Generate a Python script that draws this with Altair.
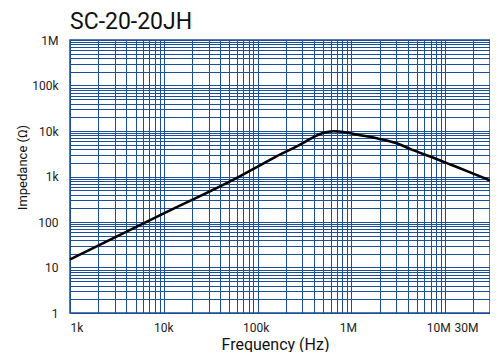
import altair as alt
import pandas as pd

# Curve (Hz, Ohm)
freq = [1000, 10000, 61600, 100000, 162000, 264000, 395000, 504000, 641000, 886000,
        1130000, 1990000, 3230000, 4460000, 7250000, 11700000, 19000000, 30000000]
imp = [15, 155, 960, 1640, 2830, 4650, 7350, 9150, 9900, 9300,
       8400, 6700, 5120, 3840, 2650, 1790, 1200, 816]

# Axis labels
x_label_values = [1000, 10000, 100000, 1000000, 10000000, 30000000]
x_label_texts = ["1k", "10k", "100k", "1M", "10M", "30M"]
x_label_shift = [0, -0.5, -2, -3.5, -7, -12]
y_label_values = [1, 10, 100, 1000, 10000, 100000, 1000000]
y_label_texts = ["1", "10", "100", "1k", "10k", "100k", "1M"]

# Grid positions (1..9 per decade)
x_grid = [m * 10 ** k for k in range(3, 7) for m in range(1, 10)] + [10000000, 20000000, 30000000]
y_grid = [m * 10 ** k for k in range(0, 6) for m in range(1, 10)] + [1000000]

FONT = "Roboto"
GRID = "#1c4f99"


def label_expr(values, texts):
    expr = "''"
    for v, t in reversed(list(zip(values, texts))):
        expr = f"datum.value == {v} ? '{t}' : ({expr})"
    return expr


label_offset = {
    "condition": [{"test": f"datum.value == {v}", "value": s}
                  for v, s in zip(x_label_values, x_label_shift) if s != 0],
    "value": 0,
}

df = pd.DataFrame({"f": freq, "z": imp})

chart = alt.Chart(df).mark_line(
    color="black", strokeWidth=2.6, interpolate="monotone"
).encode(
    x=alt.X("f:Q",
            scale=alt.Scale(type="log", domain=[1000, 30000000], nice=False),
            axis=alt.Axis(
                values=x_grid, labelExpr=label_expr(x_label_values, x_label_texts),
                title="Frequency (Hz)", ticks=False, tickSize=0, domain=False,
                grid=True, gridColor=GRID, gridWidth=1, gridOpacity=1,
                labelOverlap=False, labelBound=False,
                labelFont=FONT, labelFontSize=12, labelColor="#222222",
                labelBaseline="alphabetic", labelPadding=18,
                labelOffset=label_offset,
                titleFont=FONT, titleFontSize=16, titleFontWeight="normal", titleColor="#111111",
                titleX=205, titleY=36, titleAlign="center", titleBaseline="alphabetic",
            )),
    y=alt.Y("z:Q",
            scale=alt.Scale(type="log", domain=[1, 1000000], nice=False),
            axis=alt.Axis(
                values=y_grid, labelExpr=label_expr(y_label_values, y_label_texts),
                title="Impedance (Ω)", ticks=False, tickSize=0, domain=False,
                grid=True, gridColor=GRID, gridWidth=1, gridOpacity=1,
                labelOverlap=False, labelBound=False,
                labelFont=FONT, labelFontSize=12, labelColor="#222222",
                labelPadding=12,
                titleFont=FONT, titleFontSize=13, titleFontWeight="normal", titleColor="#111111",
                titleX=-44, titleY=127, titleAlign="center", titleBaseline="alphabetic",
                titleAngle=270,
            )),
).properties(
    width=420, height=273,
    title=alt.TitleParams("SC-20-20JH", anchor="start", frame="group", font=FONT,
                          fontSize=23, fontWeight="normal", color="#111111",
                          baseline="alphabetic", offset=4, dy=22),
    autosize=alt.AutoSizeParams(type="none"),
    padding={"left": 62, "top": 32, "right": 0, "bottom": 39},
).configure_view(
    stroke=GRID, strokeWidth=1.5, fill="white"
)

chart.save("out.html", embed_options={"renderer": "svg", "actions": False})
